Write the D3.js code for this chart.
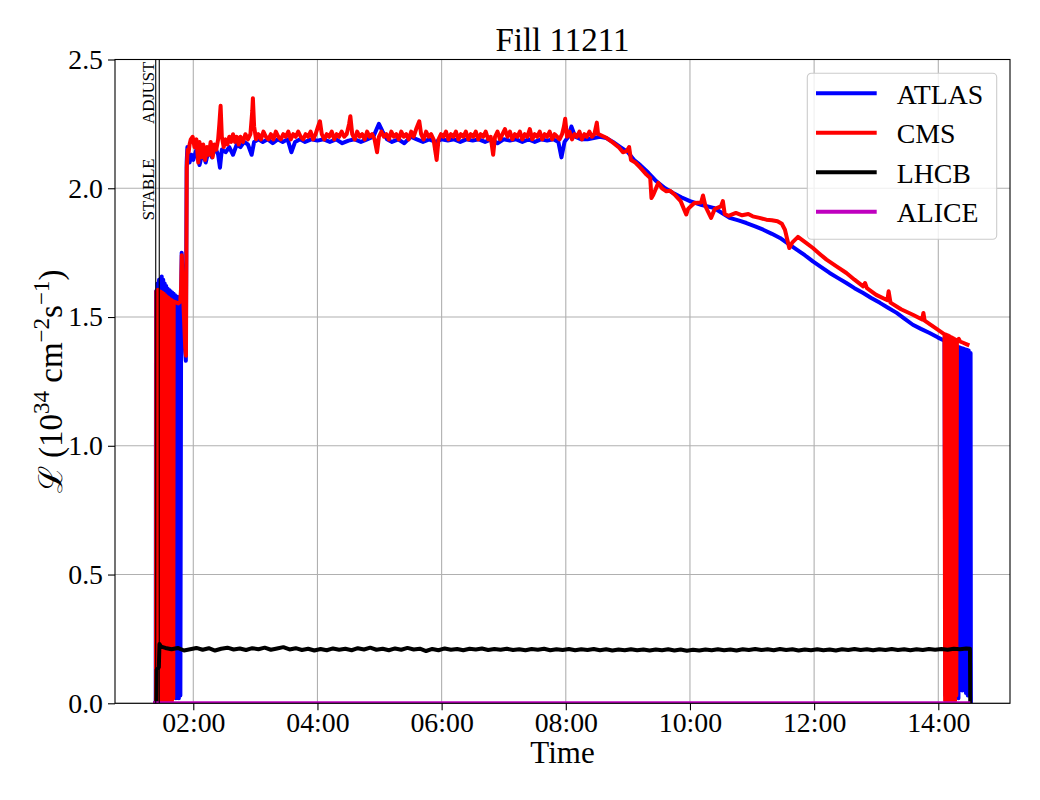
<html>
<head>
<title>Fill 11211</title>
<script src="https://cdnjs.cloudflare.com/ajax/libs/d3/7.8.5/d3.min.js"></script>
<style>
  body { margin: 0; background: #fff; }
  text { font-family: "Liberation Serif", "DejaVu Serif", serif; }
</style>
</head>
<body>
<div id="vis_container"></div>
<script>

    // time in decimal hours, luminosity in 1e34 cm^-2 s^-1
    var atlas = [
        [1.36,0],[1.395,0],[1.400,1.60],[1.412,0.02],[1.424,1.63],[1.436,0.03],[1.448,1.645],[1.460,0.02],
        [1.472,1.65],[1.484,0.04],[1.492,1.657],[1.504,0.02],[1.516,1.645],[1.528,0.03],[1.540,1.63],
        [1.552,0.02],[1.564,1.62],[1.576,0.04],[1.588,1.61],[1.600,0.02],[1.612,1.605],[1.624,0.03],
        [1.636,1.60],[1.648,0.02],[1.660,1.595],[1.672,0.04],[1.684,1.59],[1.696,0.03],[1.708,1.585],
        [1.720,0.02],[1.732,1.58],[1.744,0.03],[1.756,1.578],[1.768,0.02],[1.780,1.575],[1.792,0.03],
        [1.805,1.60],[1.813,1.75],[1.822,1.70],[1.840,1.52],[1.860,1.40],[1.880,1.33],[1.893,2.10],
        [1.905,2.16],[1.918,2.14],[1.94,2.10],[1.97,2.13],
        [2.00,2.11],[2.05,2.15],[2.10,2.09],[2.15,2.14],[2.20,2.10],[2.25,2.15],[2.30,2.12],[2.35,2.16],
        [2.40,2.13],[2.43,2.08],[2.46,2.15],[2.52,2.14],[2.58,2.16],[2.64,2.13],[2.70,2.17],[2.76,2.16],
        [2.82,2.18],[2.88,2.17],[2.94,2.13],[2.98,2.18],[3.05,2.19],[3.12,2.18],[3.20,2.19],[3.28,2.175],
        [3.36,2.19],[3.44,2.18],[3.52,2.19],[3.58,2.14],[3.64,2.18],[3.72,2.19],[3.80,2.18],[3.90,2.19],
        [4.00,2.185],[4.10,2.19],[4.20,2.18],[4.30,2.19],[4.40,2.175],[4.50,2.185],[4.60,2.19],[4.70,2.18],
        [4.80,2.19],[4.90,2.20],[4.99,2.25],[5.05,2.22],[5.12,2.19],[5.20,2.18],[5.30,2.19],[5.40,2.175],
        [5.50,2.20],[5.60,2.19],[5.70,2.18],[5.80,2.19],[5.90,2.18],[6.00,2.19],[6.10,2.185],[6.20,2.19],
        [6.30,2.18],[6.40,2.19],[6.50,2.185],[6.60,2.19],[6.70,2.18],[6.80,2.19],[6.90,2.175],[7.00,2.19],
        [7.10,2.185],[7.20,2.19],[7.30,2.18],[7.40,2.19],[7.50,2.18],[7.60,2.19],[7.70,2.185],[7.80,2.19],
        [7.88,2.18],[7.93,2.12],[7.98,2.18],[8.04,2.20],[8.09,2.24],[8.15,2.20],[8.25,2.19],[8.35,2.19],
        [8.45,2.195],[8.55,2.20],
        [8.65,2.195],[8.76,2.18],[8.88,2.16],[9.00,2.14],[9.10,2.11],[9.20,2.09],[9.33,2.06],[9.46,2.027],
        [9.60,2.00],[9.73,1.982],[9.86,1.965],[10.00,1.95],[10.19,1.935],[10.38,1.924],[10.51,1.905],
        [10.64,1.885],[10.78,1.875],[10.91,1.865],[11.05,1.852],[11.18,1.839],[11.32,1.823],[11.45,1.807],
        [11.58,1.785],[11.72,1.762],[11.85,1.74],[11.98,1.716],[12.12,1.693],[12.25,1.671],[12.38,1.652],
        [12.52,1.632],[12.65,1.612],[12.79,1.593],[12.92,1.574],[13.06,1.555],[13.19,1.536],[13.33,1.516],
        [13.46,1.493],[13.59,1.47],[13.72,1.454],[13.86,1.438],[13.99,1.421],[14.10,1.408],
        [14.115,0.03],[14.13,1.405],[14.145,0.02],[14.16,1.40],[14.175,0.03],[14.19,1.398],[14.205,0.02],
        [14.22,1.395],[14.235,0.03],[14.25,1.39],[14.265,0.02],[14.28,1.388],[14.295,0.03],[14.31,1.385],
        [14.325,0.02],[14.34,1.383],[14.355,0.06],[14.37,1.38],[14.385,0.05],[14.40,1.378],[14.415,0.06],
        [14.43,1.375],[14.445,0.04],[14.46,1.373],[14.475,0.03],[14.49,1.37],[14.505,0.03],[14.52,1.36],
        [14.525,0]
    ];

    var cms = [
        [1.36,0],[1.399,0],[1.405,1.60],[1.417,0.01],[1.429,1.606],[1.441,0.02],[1.453,1.60],[1.465,0.01],
        [1.477,1.598],[1.489,0.02],[1.501,1.594],[1.513,0.01],[1.525,1.59],[1.537,0.02],[1.549,1.585],
        [1.561,0.01],[1.573,1.58],[1.585,0.02],[1.597,1.575],[1.609,0.01],[1.621,1.57],[1.633,0.02],
        [1.645,1.566],[1.657,0.01],[1.669,1.562],[1.678,0.02],[1.684,1.56],[1.72,1.557],[1.76,1.553],
        [1.79,1.56],[1.805,1.62],[1.815,1.74],[1.83,1.62],[1.85,1.50],[1.87,1.38],[1.882,1.35],
        [1.895,2.08],[1.91,2.15],[1.925,2.14],[1.94,2.17],[1.96,2.19],[1.99,2.20],
        [2.02,2.16],[2.05,2.19],[2.08,2.10],[2.10,2.18],[2.13,2.12],[2.16,2.17],[2.19,2.11],[2.22,2.16],
        [2.25,2.13],[2.28,2.18],[2.31,2.12],[2.34,2.17],[2.37,2.15],[2.40,2.19],[2.42,2.25],[2.44,2.32],
        [2.46,2.20],[2.49,2.16],[2.52,2.19],[2.55,2.17],[2.58,2.20],[2.61,2.18],[2.64,2.21],[2.67,2.18],
        [2.70,2.20],[2.73,2.17],[2.76,2.20],[2.80,2.18],[2.84,2.21],[2.88,2.19],[2.92,2.21],[2.95,2.30],
        [2.96,2.35],[2.98,2.24],[3.01,2.19],[3.05,2.21],[3.09,2.19],[3.13,2.22],[3.17,2.20],[3.21,2.19],
        [3.25,2.21],[3.29,2.19],[3.33,2.22],[3.37,2.20],[3.41,2.19],[3.45,2.21],[3.49,2.20],[3.53,2.22],
        [3.57,2.19],[3.61,2.21],[3.65,2.20],[3.69,2.22],[3.73,2.20],[3.77,2.19],[3.81,2.21],[3.85,2.20],
        [3.89,2.22],[3.93,2.19],[3.97,2.21],[4.01,2.24],[4.04,2.26],[4.07,2.21],[4.11,2.19],[4.15,2.21],
        [4.19,2.20],[4.23,2.22],[4.27,2.19],[4.31,2.21],[4.35,2.20],[4.39,2.22],[4.43,2.20],[4.47,2.21],
        [4.51,2.25],[4.53,2.28],[4.56,2.21],[4.60,2.19],[4.64,2.22],[4.68,2.20],[4.72,2.21],[4.76,2.19],
        [4.80,2.22],[4.84,2.20],[4.88,2.21],[4.92,2.19],[4.96,2.14],[4.99,2.20],[5.03,2.22],[5.07,2.20],
        [5.11,2.21],[5.15,2.19],[5.19,2.22],[5.23,2.20],[5.27,2.21],[5.31,2.19],[5.35,2.22],[5.39,2.20],
        [5.43,2.21],[5.47,2.19],[5.51,2.22],[5.55,2.20],[5.59,2.23],[5.64,2.26],[5.67,2.21],[5.71,2.19],
        [5.75,2.22],[5.79,2.20],[5.83,2.21],[5.87,2.19],[5.92,2.11],[5.95,2.19],[5.99,2.21],[6.03,2.20],
        [6.07,2.22],[6.11,2.19],[6.15,2.21],[6.19,2.20],[6.23,2.22],[6.27,2.19],[6.31,2.21],[6.35,2.20],
        [6.39,2.22],[6.43,2.19],[6.47,2.21],[6.51,2.20],[6.55,2.22],[6.59,2.19],[6.63,2.21],[6.67,2.20],
        [6.71,2.22],[6.75,2.19],[6.79,2.20],[6.83,2.13],[6.86,2.20],[6.90,2.22],[6.94,2.19],[6.98,2.21],
        [7.02,2.23],[7.06,2.20],[7.10,2.22],[7.14,2.19],[7.18,2.21],[7.22,2.20],[7.26,2.22],[7.30,2.19],
        [7.34,2.21],[7.38,2.20],[7.42,2.23],[7.46,2.19],[7.50,2.21],[7.54,2.20],[7.58,2.22],[7.62,2.19],
        [7.66,2.21],[7.70,2.20],[7.74,2.22],[7.78,2.19],[7.82,2.21],[7.86,2.20],[7.90,2.19],[7.94,2.21],
        [7.97,2.24],[7.99,2.27],[8.02,2.20],[8.06,2.22],[8.10,2.19],[8.14,2.21],[8.18,2.20],[8.22,2.22],
        [8.26,2.19],[8.30,2.21],[8.34,2.20],[8.38,2.22],[8.42,2.20],[8.46,2.21],[8.50,2.255],[8.52,2.21],
        [8.55,2.208],
        [8.66,2.195],[8.76,2.177],[8.85,2.16],[8.92,2.14],[8.98,2.144],[9.02,2.16],[9.05,2.11],[9.12,2.10],
        [9.20,2.08],[9.30,2.053],[9.36,2.04],[9.38,1.962],[9.41,1.975],[9.49,2.021],[9.55,2.00],
        [9.62,1.988],[9.68,1.99],[9.75,1.976],[9.85,1.95],[9.94,1.898],[9.97,1.92],[10.07,1.943],
        [10.18,1.945],[10.21,1.972],[10.25,1.93],[10.34,1.885],[10.40,1.92],[10.50,1.93],[10.53,1.95],
        [10.56,1.90],[10.62,1.893],[10.74,1.904],[10.84,1.895],[10.94,1.90],[11.01,1.891],[11.12,1.885],
        [11.23,1.878],[11.32,1.876],[11.41,1.872],[11.48,1.862],[11.53,1.839],[11.60,1.768],[11.65,1.79],
        [11.74,1.811],[11.86,1.79],[11.98,1.768],[12.09,1.745],[12.20,1.723],[12.36,1.697],[12.52,1.671],
        [12.65,1.645],[12.79,1.619],[12.82,1.632],[12.85,1.612],[13.00,1.586],[13.18,1.565],[13.20,1.60],
        [13.23,1.556],[13.40,1.53],[13.59,1.509],[13.74,1.49],[13.76,1.516],[13.78,1.486],[13.95,1.458],
        [14.10,1.433],
        [14.11,0.01],[14.12,1.432],[14.13,0.02],[14.14,1.43],[14.15,0.01],[14.16,1.428],[14.17,0.02],
        [14.18,1.425],[14.19,0.01],[14.20,1.422],[14.21,0.02],[14.22,1.42],[14.23,0.01],[14.24,1.418],
        [14.25,0.02],[14.26,1.415],[14.27,0.01],[14.28,1.412],[14.29,0.03],[14.30,1.41],[14.33,1.415],
        [14.35,1.405],[14.40,1.40],[14.45,1.395],[14.50,1.39]
    ];

    var lhcb = [
        [1.36,0],[1.405,0],[1.41,0.13],[1.445,0.14],[1.455,0.23],[1.48,0.22],[1.55,0.215],[1.65,0.21],
        [1.75,0.215],[1.85,0.205],[1.95,0.21],[2.05,0.215],[2.15,0.208],[2.25,0.214],[2.35,0.205],
        [2.45,0.212],[2.55,0.216],[2.65,0.209],[2.75,0.213],[2.85,0.207],[2.95,0.214],[3.05,0.21],
        [3.15,0.216],[3.25,0.208],[3.35,0.213],[3.45,0.218],[3.55,0.209],[3.65,0.214],[3.75,0.207],
        [3.85,0.212],[3.95,0.205],[4.05,0.211],[4.15,0.206],[4.25,0.213],[4.35,0.208],[4.45,0.212],
        [4.55,0.206],[4.65,0.214],[4.75,0.209],[4.85,0.216],[4.95,0.208],[5.05,0.212],[5.15,0.206],
        [5.25,0.213],[5.35,0.208],[5.45,0.215],[5.55,0.209],[5.65,0.212],[5.75,0.203],[5.85,0.211],
        [5.95,0.206],[6.05,0.213],[6.15,0.208],[6.25,0.211],[6.35,0.206],[6.45,0.212],[6.55,0.209],
        [6.65,0.213],[6.75,0.207],[6.85,0.211],[6.95,0.208],[7.05,0.212],[7.15,0.207],[7.25,0.21],
        [7.35,0.206],[7.45,0.211],[7.55,0.208],[7.65,0.212],[7.75,0.206],[7.85,0.21],[7.95,0.207],
        [8.05,0.211],[8.15,0.206],[8.25,0.21],[8.35,0.207],[8.45,0.211],[8.55,0.206],[8.65,0.21],
        [8.75,0.205],[8.85,0.209],[8.95,0.206],[9.05,0.21],[9.15,0.206],[9.25,0.209],[9.35,0.205],
        [9.45,0.209],[9.55,0.206],[9.65,0.21],[9.75,0.205],[9.85,0.209],[9.95,0.204],[10.05,0.208],
        [10.15,0.205],[10.25,0.209],[10.35,0.206],[10.45,0.21],[10.55,0.206],[10.65,0.209],[10.75,0.205],
        [10.85,0.21],[10.95,0.207],[11.05,0.211],[11.15,0.207],[11.25,0.21],[11.35,0.206],[11.45,0.211],
        [11.55,0.207],[11.65,0.21],[11.75,0.205],[11.85,0.209],[11.95,0.206],[12.05,0.21],[12.15,0.206],
        [12.25,0.209],[12.35,0.205],[12.45,0.21],[12.55,0.207],[12.65,0.211],[12.75,0.207],[12.85,0.21],
        [12.95,0.206],[13.05,0.21],[13.15,0.207],[13.25,0.211],[13.35,0.207],[13.45,0.21],[13.55,0.206],
        [13.65,0.21],[13.75,0.207],[13.85,0.211],[13.95,0.208],[14.05,0.211],[14.15,0.208],[14.25,0.212],
        [14.35,0.21],[14.45,0.213],[14.51,0.212],[14.515,0]
    ];

    var alice = [[1.356,0],[5.0,0],[10.0,0],[14.515,0]];

    var seriesNames  = ["ATLAS", "CMS", "LHCB", "ALICE"];
    var seriesColors = ["#0000ff", "#ff0000", "#000000", "#bf00bf"];
    var seriesData   = [atlas, cms, lhcb, alice];

    // beam mode markers (hours)
    var modeLines = [1.395, 1.452];
    var modeLabels = [{text: "STABLE", at: 1.876}, {text: "ADJUST", at: 2.25}];

    var xDomainHours = [0.739, 15.155];
    var yTicks = [0, 0.5, 1.0, 1.5, 2.0, 2.5];

    var baseDay = new Date(2024, 0, 1).getTime();
    function toDate(h) { return new Date(baseDay + h * 3600000); }

    var width = 1040, height = 800;
    var margin = {left: 115, right: 30, top: 59.5, bottom: 96.7};

    var svg = d3.select("#vis_container")
                .append("svg")
                .attr("width", width)
                .attr("height", height);

    var x = d3.scaleTime()
        .domain(xDomainHours.map(toDate))
        .range([margin.left, width - margin.right]);

    var y = d3.scaleLinear()
        .domain([0, 2.5])
        .range([height - margin.bottom, margin.top]);

    var xTicks = d3.timeHour.every(2).range(toDate(2), toDate(14.01));

    // grid
    var grid = svg.append("g").attr("class", "grid")
        .attr("stroke", "#b0b0b0").attr("stroke-width", 1.1);
    grid.selectAll(".gx").data(xTicks).enter().append("line")
        .attr("x1", d => x(d)).attr("x2", d => x(d))
        .attr("y1", y(0)).attr("y2", y(2.5));
    grid.selectAll(".gy").data(yTicks).enter().append("line")
        .attr("x1", x.range()[0]).attr("x2", x.range()[1])
        .attr("y1", d => y(d)).attr("y2", d => y(d));

    // clip
    svg.append("clipPath").attr("id", "plotclip").append("rect")
        .attr("x", margin.left).attr("y", margin.top)
        .attr("width", width - margin.left - margin.right)
        .attr("height", height - margin.top - margin.bottom);

    var line = d3.line()
        .x(d => x(toDate(d[0])))
        .y(d => y(d[1]));

    svg.append("g").attr("clip-path", "url(#plotclip)")
        .selectAll("path").data(seriesData).enter().append("path")
        .attr("d", line)
        .attr("fill", "none")
        .attr("stroke", (d, i) => seriesColors[i])
        .attr("stroke-width", 4)
        .attr("stroke-linejoin", "round");

    // beam mode lines and labels
    svg.selectAll(".mode").data(modeLines).enter().append("line")
        .attr("x1", d => x(toDate(d))).attr("x2", d => x(toDate(d)))
        .attr("y1", y(0)).attr("y2", y(2.5))
        .attr("stroke", "#000").attr("stroke-width", 1.1);

    svg.selectAll(".modelabel").data(modeLabels).enter().append("text")
        .attr("transform", d => "translate(" + (x(toDate(modeLines[0])) - 2) + "," + y(d.at) + ") rotate(-90)")
        .attr("font-size", 16.7)
        .text(d => d.text);

    // axes
    var xAxis = svg.append("g")
        .attr("transform", "translate(0," + y(0) + ")")
        .call(d3.axisBottom(x).tickValues(xTicks).tickFormat(d3.timeFormat("%H:%M")).tickSize(7).tickPadding(1.5));
    var yAxis = svg.append("g")
        .attr("transform", "translate(" + margin.left + ",0)")
        .call(d3.axisLeft(y).tickValues(yTicks).tickFormat(d3.format(".1f")).tickSize(7).tickPadding(5));

    [xAxis, yAxis].forEach(function(a) {
        a.select(".domain").remove();
        a.selectAll("text").attr("font-size", 27.8).attr("font-family", "Liberation Serif").attr("fill", "#000");
        a.selectAll("line").attr("stroke", "#000").attr("stroke-width", 1.1);
    });

    // frame
    svg.append("rect")
        .attr("x", margin.left).attr("y", margin.top)
        .attr("width", width - margin.left - margin.right)
        .attr("height", height - margin.top - margin.bottom)
        .attr("fill", "none").attr("stroke", "#000").attr("stroke-width", 1.1);

    // titles
    svg.append("text")
        .attr("x", (x.range()[0] + x.range()[1]) / 2).attr("y", 50.7)
        .attr("text-anchor", "middle").attr("font-size", 33)
        .text("Fill 11211");

    svg.append("text")
        .attr("x", (x.range()[0] + x.range()[1]) / 2).attr("y", 763)
        .attr("text-anchor", "middle").attr("font-size", 31)
        .text("Time");

    var yl = svg.append("text")
        .attr("transform", "translate(62," + ((y(0) + y(2.5)) / 2) + ") rotate(-90)")
        .attr("text-anchor", "middle").attr("font-size", 33);
    yl.append("tspan").text("\u2112 (10");
    yl.append("tspan").attr("dy", -13).attr("font-size", 23).text("34");
    yl.append("tspan").attr("dy", 13).text(" cm");
    yl.append("tspan").attr("dy", -13).attr("font-size", 23).text("\u22122");
    yl.append("tspan").attr("dy", 13).text("s");
    yl.append("tspan").attr("dy", -13).attr("font-size", 23).text("\u22121");
    yl.append("tspan").attr("dy", 13).text(")");

    // legend
    var legend = svg.append("g").attr("transform", "translate(807.3,73.3)");
    legend.append("rect")
        .attr("width", 189.4).attr("height", 166)
        .attr("rx", 4).attr("ry", 4)
        .attr("fill", "#fff").attr("fill-opacity", 0.8)
        .attr("stroke", "#cccccc").attr("stroke-width", 1.1);
    var items = legend.selectAll(".item").data(seriesNames).enter().append("g")
        .attr("transform", (d, i) => "translate(0," + (20 + i * 39.5) + ")");
    items.append("line")
        .attr("x1", 8.7).attr("x2", 69.4)
        .attr("stroke", (d, i) => seriesColors[i]).attr("stroke-width", 4);
    items.append("text")
        .attr("x", 89.4).attr("y", 10.5)
        .attr("font-size", 27.8)
        .text(d => d);

</script>
</body>
</html>
